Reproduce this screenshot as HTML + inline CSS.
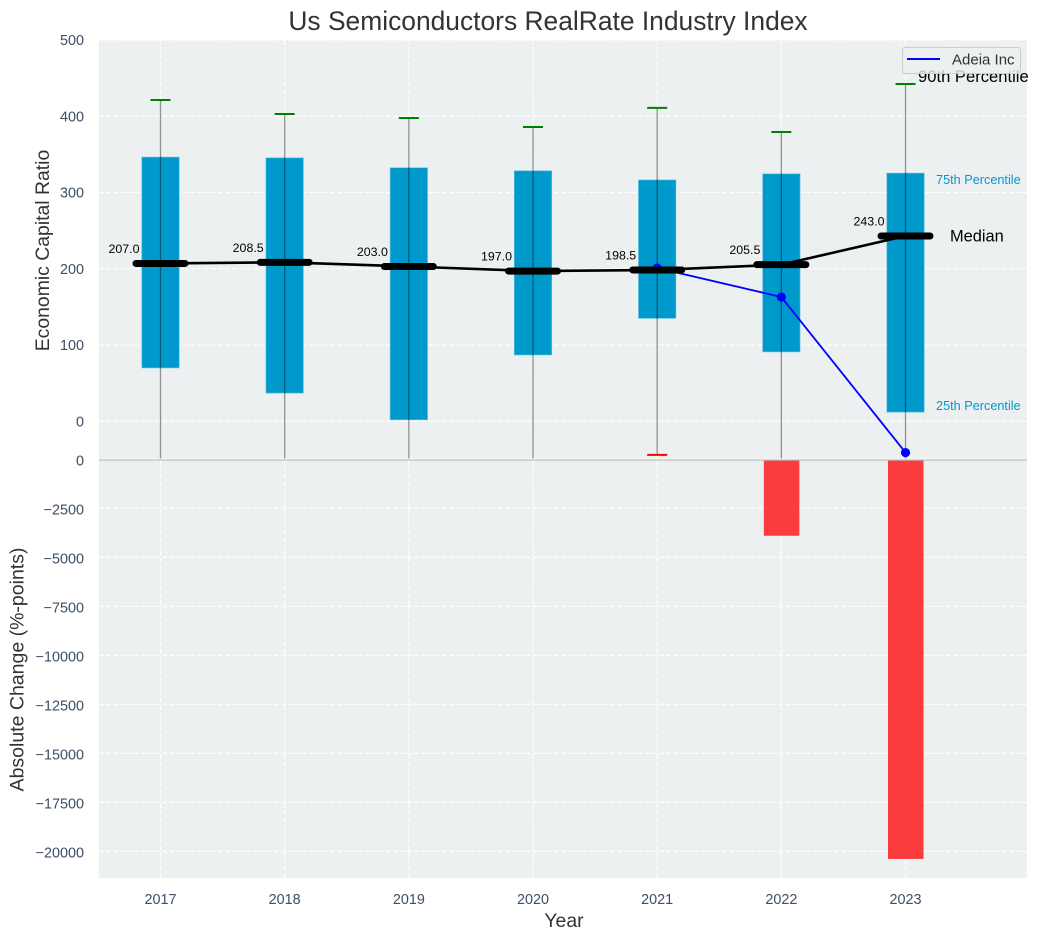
<!DOCTYPE html>
<html lang="en">
<head>
<meta charset="utf-8">
<title>Us Semiconductors RealRate Industry Index</title>
<style>
html,body{margin:0;padding:0;background:#fff;width:1038px;height:940px;overflow:hidden}
svg{display:block;font-family:"Liberation Sans",Arial,sans-serif}
</style>
</head>
<body>
<svg id="chart" width="1038" height="940" viewBox="0 0 1038 940" xmlns="http://www.w3.org/2000/svg">
  <defs>
    <clipPath id="top-clip"><rect x="99" y="40" width="928" height="418.5"/></clipPath>
    <clipPath id="bottom-clip"><rect x="99" y="460" width="928" height="418"/></clipPath>
  </defs>
  <rect x="99" y="40" width="928" height="419" fill="#ecf0f1"/>
  <rect x="99" y="460" width="928" height="418" fill="#ecf0f1"/>
  <g id="grid"></g>
  <g id="bottom-marks" clip-path="url(#bottom-clip)"></g>
  <g id="top-marks" clip-path="url(#top-clip)"></g>
  <line x1="99" x2="1027" y1="459" y2="459" stroke="#ffffff" stroke-width="1"/>
  <line x1="99" x2="1027" y1="460" y2="460" stroke="#bdbdbd" stroke-width="1.2"/>
  <g id="ticks" font-size="14.4" fill="#3d4f66"></g>
  <text x="548" y="30" text-anchor="middle" font-size="26.4" fill="#333">Us Semiconductors RealRate Industry Index</text>
  <text transform="translate(49,250.5) rotate(-90)" text-anchor="middle" font-size="19.4" fill="#333">Economic Capital Ratio</text>
  <text transform="translate(23.5,669.5) rotate(-90)" text-anchor="middle" font-size="19.5" fill="#333">Absolute Change (%-points)</text>
  <text x="564" y="927" text-anchor="middle" font-size="19.4" fill="#333">Year</text>
  <g id="annotations"></g>
  <g>
    <rect x="902.5" y="47.5" width="118" height="26" rx="3" fill="#ecf0f1" fill-opacity="0.8" stroke="#cccccc"/>
    <line x1="907" x2="940" y1="59" y2="59" stroke="#0000ff" stroke-width="2"/>
    <text x="952" y="64.5" font-size="15" fill="#333">Adeia Inc</text>
  </g>
</svg>
<script>
const years = [2017, 2018, 2019, 2020, 2021, 2022, 2023];
const q1 = [70, 37, 2, 87, 135, 91, 12];
const q3 = [346.5, 345.5, 332.5, 328.5, 316.5, 324.5, 325.5];
const p90 = [421.4, 403, 397.8, 386, 411, 379.4, 442.4];
const p10 = [-60, -60, -60, -60, -44, -60, -60];
const medians = [207.0, 208.5, 203.0, 197.0, 198.5, 205.5, 243.0];
const adeiaYears = [2021, 2022, 2023];
const adeiaValues = [201, 163, -41];
const changes = [0, 0, 0, 0, 0, -3900, -20390];
const topTicks = [0, 100, 200, 300, 400, 500];
const bottomTicks = [0, -2500, -5000, -7500, -10000, -12500, -15000, -17500, -20000];

const NS = 'http://www.w3.org/2000/svg';
const xScale = y => 160.5 + (y - 2017) * 124.17;
const yTop = v => 421.3 - v * 0.7625;
const yBottom = v => 459.3 - v * 0.0196;

function make(tag, parent, attrs, text) {
  const el = document.createElementNS(NS, tag);
  for (const k in attrs) el.setAttribute(k, attrs[k]);
  if (text !== undefined) el.textContent = text;
  parent.appendChild(el);
  return el;
}
const grid = document.getElementById('grid');
const ticks = document.getElementById('ticks');
const topMarks = document.getElementById('top-marks');
const bottomMarks = document.getElementById('bottom-marks');
const notes = document.getElementById('annotations');
const gridStyle = { stroke: '#ffffff', 'stroke-width': 1.1, 'stroke-dasharray': '5 2' };

topTicks.forEach(v => {
  const y = yTop(v);
  const g = make('line', grid, Object.assign({ x1: 99, x2: 1027, y1: y, y2: y }, gridStyle));
  
  
  const t = make('text', ticks, { x: 84, y: y + 5, 'text-anchor': 'end' }, String(v));
  
  
});
bottomTicks.forEach(v => {
  const y = yBottom(v);
  if (v !== 0) {
    const g = make('line', grid, Object.assign({ x1: 99, x2: 1027, y1: y, y2: y }, gridStyle));
    
    
  }
  const t = make('text', ticks, { x: 84, y: y + 6, 'text-anchor': 'end' }, String(v).replace('-', '\u2212'));
  
  
});
years.forEach(yr => {
  const x = xScale(yr);
  const g = make('line', grid, Object.assign({ x1: x, x2: x, y1: 40, y2: 878 }, gridStyle));
  
  
  const t = make('text', ticks, { x: x, y: 904, 'text-anchor': 'middle' }, String(yr));
  
  
});

years.forEach((yr, i) => {
  const x = xScale(yr);
  const box = make('rect', topMarks, { x: x - 18.7, width: 37.4, y: yTop(q3[i]), height: yTop(q1[i]) - yTop(q3[i]), fill: '#0099cc', stroke: '#5cc0e0', 'stroke-width': 0.6 });
  
  
  const w = make('line', topMarks, { x1: x, x2: x, y1: yTop(p90[i]), y2: yTop(p10[i]), stroke: '#000', 'stroke-opacity': 0.42, 'stroke-width': 1.3 });
  
  
  const hi = make('line', topMarks, { x1: x - 10, x2: x + 10, y1: yTop(p90[i]), y2: yTop(p90[i]), stroke: '#008000', 'stroke-width': 2 });
  
  
  if (yTop(p10[i]) < 458) {
    const lo = make('line', topMarks, { x1: x - 10, x2: x + 10, y1: yTop(p10[i]), y2: yTop(p10[i]), stroke: '#ff0000', 'stroke-width': 2 });
    
    
  }
  if (changes[i] !== 0) {
    const b = make('rect', bottomMarks, { x: x - 17.5, width: 35.5, y: yBottom(0), height: yBottom(changes[i]) - yBottom(0), fill: '#ff0000', 'fill-opacity': 0.75 });
    
    
  }
});

const adeiaPoints = adeiaYears.map((yr, i) => xScale(yr) + ',' + yTop(adeiaValues[i])).join(' ');
const adeiaLine = make('polyline', topMarks, { points: adeiaPoints, fill: 'none', stroke: '#0000ff', 'stroke-width': 1.8 });


adeiaYears.forEach((yr, i) => {
  const c = make('circle', topMarks, { cx: xScale(yr), cy: yTop(adeiaValues[i]), r: 4.6, fill: '#0000ff' });
  
  
});

const medianPoints = years.map((yr, i) => xScale(yr) + ',' + yTop(medians[i])).join(' ');
const medianLine = make('polyline', topMarks, { points: medianPoints, fill: 'none', stroke: '#000', 'stroke-width': 2.6 });


years.forEach((yr, i) => {
  const x = xScale(yr);
  const y = yTop(medians[i]);
  const m = make('line', topMarks, { x1: x - 24.5, x2: x + 24.5, y1: y, y2: y, stroke: '#000', 'stroke-width': 7, 'stroke-linecap': 'round' });
  
  
  const t = make('text', notes, { x: x - 36.5, y: y - 10.5, 'text-anchor': 'middle', 'font-size': 12.4, fill: '#000' }, medians[i].toFixed(1));
  
  
});

const last = years.length - 1;
const lx = xScale(years[last]);
const n90 = make('text', notes, { x: lx + 12.5, y: yTop(p90[last]) - 2, 'font-size': 16.6, fill: '#000' }, '90th Percentile');


const n75 = make('text', notes, { x: lx + 30.5, y: yTop(q3[last]) + 11, 'font-size': 12.7, fill: '#0099cc' }, '75th Percentile');


const nMed = make('text', notes, { x: lx + 44.5, y: yTop(medians[last]) + 5.5, 'font-size': 16.4, fill: '#000' }, 'Median');


const n25 = make('text', notes, { x: lx + 30.5, y: yTop(q1[last]) - 2, 'font-size': 12.7, fill: '#0099cc' }, '25th Percentile');


</script>
</body>
</html>
